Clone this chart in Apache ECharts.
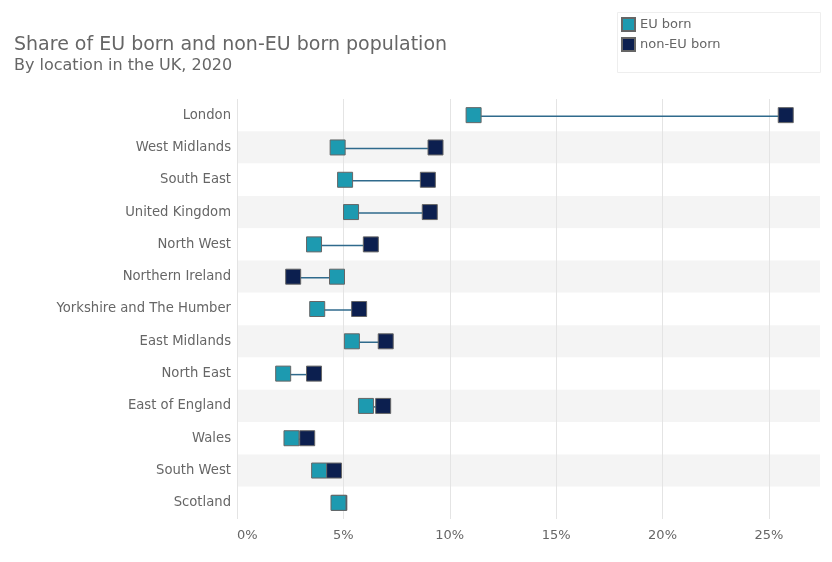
<!DOCTYPE html>
<html>
<head>
<meta charset="utf-8">
<script src="https://cdn.jsdelivr.net/npm/echarts@6/dist/echarts.min.js"></script>
<style>
html,body{margin:0;padding:0;background:#fff;}
#chart{width:832px;height:562px;}
</style>
</head>
<body>
<div id="chart"></div>
<script>
const categories = ["London","West Midlands","South East","United Kingdom","North West","Northern Ireland","Yorkshire and The Humber","East Midlands","North East","East of England","Wales","South West","Scotland"];
const euBorn = [11.12, 4.73, 5.08, 5.36, 3.62, 4.70, 3.77, 5.40, 2.17, 6.06, 2.56, 3.86, 4.77];
const nonEuBorn = [25.79, 9.33, 8.97, 9.06, 6.29, 2.64, 5.74, 6.99, 3.62, 6.87, 3.30, 4.56, 4.81];
const xTicks = [0, 5, 10, 15, 20, 25];

const FONT = 'DejaVu Sans';
const chart = echarts.init(document.getElementById('chart'), null, {renderer:'canvas'});

const lineData = categories.map((c, i) => [i, euBorn[i], nonEuBorn[i]]);

chart.setOption({
  animation: false,
  backgroundColor: '#fff',
  textStyle: {fontFamily: FONT},
  title: {
    text: 'Share of EU born and non-EU born population',
    subtext: 'By location in the UK, 2020',
    left: 9, top: 31,
    itemGap: 3,
    textStyle: {fontFamily: FONT, fontSize: 19, fontWeight: 'normal', color: '#666'},
    subtextStyle: {fontFamily: FONT, fontSize: 16, color: '#666'}
  },
  graphic: [{
    type: 'rect', left: 617, top: 12, z: -1,
    shape: {width: 203, height: 60},
    style: {fill: '#fff', stroke: '#eeeeee', lineWidth: 1}
  }],
  legend: {
    orient: 'vertical', left: 616, top: 12,
    itemWidth: 13, itemHeight: 13, itemGap: 5,
    data: ['EU born', 'non-EU born'],
    textStyle: {fontFamily: FONT, fontSize: 13, color: '#666'}
  },
  grid: {left: 237, right: 12, top: 99, bottom: 43, containLabel: false},
  xAxis: {
    type: 'value', min: 0, max: 27.4, interval: 5,
    axisLine: {show: false}, axisTick: {show: false},
    splitLine: {show: true, showMaxLine: false, lineStyle: {color: '#e4e4e4', width: 1}},
    axisLabel: {
      color: '#666', fontFamily: FONT, fontSize: 13, margin: 10,
      showMaxLabel: false, alignMinLabel: 'left',
      formatter: v => xTicks.includes(v) ? v + '%' : ''
    }
  },
  yAxis: {
    type: 'category', data: categories, inverse: true,
    axisLine: {show: false}, axisTick: {show: false},
    axisLabel: {color: '#666', fontFamily: FONT, fontSize: 13.2, margin: 6},
    splitLine: {show: false},
    splitArea: {show: true, areaStyle: {color: ['#ffffff', '#f4f4f4']}}
  },
  series: [
    {
      type: 'custom', name: 'connector', silent: true, z: 1,
      data: lineData,
      encode: {x: [1, 2], y: 0},
      renderItem: function (params, api) {
        const y = api.value(0);
        const p1 = api.coord([api.value(1), y]);
        const p2 = api.coord([api.value(2), y]);
        return {
          type: 'line',
          shape: {x1: p1[0], y1: p1[1] + 1, x2: p2[0], y2: p2[1] + 1},
          style: {stroke: '#2f6a8c', lineWidth: 1.5}
        };
      }
    },
    {
      name: 'non-EU born', type: 'scatter', z: 3,
      symbol: 'rect', symbolSize: 15,
      itemStyle: {color: '#0c1f4f', borderColor: '#666', borderWidth: 1, opacity: 1},
      data: nonEuBorn.map((v, i) => [v, categories[i]])
    },
    {
      name: 'EU born', type: 'scatter', z: 4,
      symbol: 'rect', symbolSize: 15,
      itemStyle: {color: '#1d9ab0', borderColor: '#666', borderWidth: 1, opacity: 1},
      data: euBorn.map((v, i) => [v, categories[i]])
    }
  ]
});
</script>
</body>
</html>
